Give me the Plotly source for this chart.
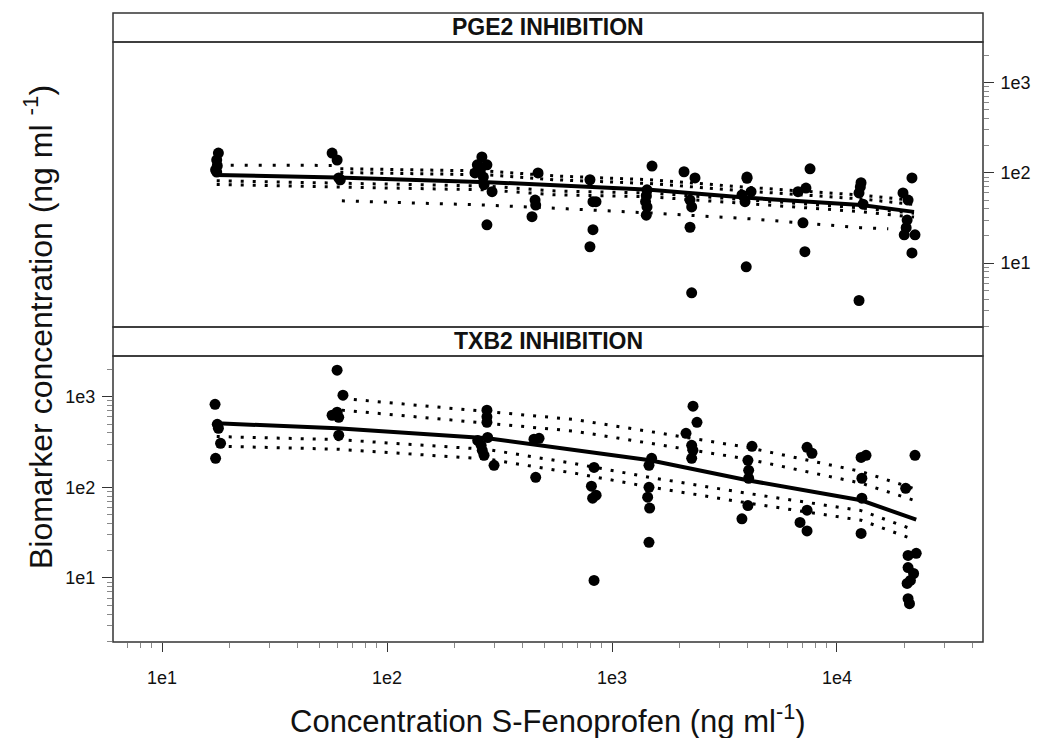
import plotly.graph_objects as go

# ---------------- PGE2 observations ----------------
pge2_conc = [17.8, 17.5, 17.6, 17.3, 17.5,
             57, 60, 61, 62,
             264, 252, 278, 260, 246, 268, 270, 293, 278,
             469, 455, 458, 441,
             798, 823, 849, 823, 798,
             1506, 1431, 1420, 1410, 1431, 1420,
             2090, 2338, 2222, 2260, 2222, 2260,
             3981, 3981, 4150, 3781, 3900, 3950,
             7590, 7280, 6710, 7060, 7200,
             12790, 12700, 12530, 13060, 12530,
             21540, 19650, 20700, 20500, 20300, 19900, 22220, 21540]
pge2_value = [166, 139, 120, 108, 102,
              166, 139, 88, 84,
              150, 123, 123, 108, 100, 90, 74, 62, 26.6,
              100, 50, 44, 32.7,
              84, 48, 48, 23.5, 15.2,
              119, 65, 56, 48, 42, 34,
              103, 88, 50, 42, 25, 4.7,
              90, 87, 62, 57, 48, 9.1,
              111, 68, 62, 28, 13.4,
              78, 70, 60, 45, 3.86,
              88, 60, 50, 30, 24.7, 20.6, 20.6, 13]

# ---------------- TXB2 observations ----------------
txb2_conc = [17.2, 17.6, 17.8, 18.2, 17.3,
             60, 63.7, 57, 60, 61, 61,
             278, 278, 278, 253, 262, 265, 270, 299, 280,
             474, 450, 458,
             832, 810, 850, 820, 832,
             1500, 1460, 1460, 1440, 1470, 1460,
             2291, 2386, 2133, 2260, 2290, 2260,
             4190, 4019, 4050, 4050, 4019, 3780,
             7360, 7740, 7360, 6850, 7360,
             13460, 12800, 12900, 12900, 12800,
             22220, 20200, 20700, 22500, 20700, 21900, 21200, 20500, 20700, 21000]
txb2_value = [826, 497, 449, 306, 209,
              1963, 1040, 625, 675, 593, 376,
              710, 600, 522, 330, 291, 256, 226, 175, 355,
              348, 340, 129,
              166, 103, 82, 76, 9.4,
              209, 175, 100, 78, 59, 24.7,
              786, 522, 395, 291, 256, 209,
              284, 199, 154, 126, 63, 45,
              277, 238, 56, 41, 33,
              226, 214, 126, 76, 31,
              226, 97.5, 17.7, 18.7, 13, 11.2, 9.4, 8.7, 5.9, 5.2]

# ---------------- PGE2 model lines ----------------
pge2_med_x = [17.5, 60, 280, 1475, 4000, 12800, 22000]
pge2_med_y = [95, 89, 79, 65, 53, 44, 37]
pge2_up_x = [17.5, 58, 62, 280, 560, 1475, 4000, 12800, 22000]
pge2_up_y = [122, 121, 106, 100, 88, 80, 66, 54, 47]
pge2_lo_x = [17.5, 60, 280, 560, 1475, 4000, 12800, 22000]
pge2_lo_y = [78, 74, 68, 60, 57, 48, 39, 34]
pge2_low_x = [63, 278, 631, 1475, 4110, 12700, 16900]
pge2_low_y = [49, 44, 40, 36, 31, 24.7, 24]

# ---------------- TXB2 model lines ----------------
txb2_med_x = [17.5, 60, 280, 1475, 4000, 12800, 22500]
txb2_med_y = [509, 449, 348, 199, 120, 72, 44]
txb2_up_x = [63, 280, 680, 1475, 4000, 12800, 22500]
txb2_up_y = [826, 593, 484, 356, 238, 129, 82]
txb2_lo_x = [17.5, 60, 280, 680, 1475, 4000, 12800, 22000]
txb2_lo_y = [322, 298, 232, 162, 114, 76, 49, 30]

x_ticks = [10, 100, 1000, 10000]
x_ticktext = ["1e1", "1e2", "1e3", "1e4"]
y_ticks = [10, 100, 1000]
y_ticktext = ["1e1", "1e2", "1e3"]

FONT = "Liberation Sans, Arial, sans-serif"
INK = "black"
FRAME = "#333333"

fig = go.Figure()


def band(xs, ys, factor, xa, ya, dash):
    for f in (factor, 1.0 / factor):
        fig.add_trace(go.Scatter(
            x=xs, y=[v * f for v in ys], mode="lines", xaxis=xa, yaxis=ya,
            line=dict(color=INK, width=3, dash=dash), hoverinfo="skip", showlegend=False))


def single(xs, ys, xa, ya, dash, width=3):
    fig.add_trace(go.Scatter(
        x=xs, y=ys, mode="lines", xaxis=xa, yaxis=ya,
        line=dict(color=INK, width=width, dash=dash), hoverinfo="skip", showlegend=False))


# top panel (PGE2)
single(pge2_up_x[:2], pge2_up_y[:2], "x2", "y2", "3px,11px")
band(pge2_up_x[2:], pge2_up_y[2:], 1.05, "x2", "y2", "3px,7px")
band(pge2_lo_x, pge2_lo_y, 1.05, "x2", "y2", "3px,9px")
single(pge2_low_x, pge2_low_y, "x2", "y2", "3px,11px")
fig.add_trace(go.Scatter(x=pge2_conc, y=pge2_value, mode="markers", xaxis="x2", yaxis="y2",
                         marker=dict(color=INK, size=11), showlegend=False))
single(pge2_med_x, pge2_med_y, "x2", "y2", "solid", width=4)

# bottom panel (TXB2)
band(txb2_up_x, txb2_up_y, 1.16, "x", "y", "3px,9px")
band(txb2_lo_x, txb2_lo_y, 1.13, "x", "y", "3px,9px")
fig.add_trace(go.Scatter(x=txb2_conc, y=txb2_value, mode="markers", xaxis="x", yaxis="y",
                         marker=dict(color=INK, size=11), showlegend=False))
single(txb2_med_x, txb2_med_y, "x", "y", "solid", width=4)

D_BOT = [0, 0.4547]
D_S2 = [0.4547, 0.5008]
D_TOP = [0.5008, 0.9539]
D_S1 = [0.9539, 1.0]

minor_x = [m * 10 ** e for e in range(0, 5) for m in range(2, 10)]
minor_y = [m * 10 ** e for e in range(0, 4) for m in range(2, 10)]

common_y = dict(type="log", range=[0.293, 3.45], tickmode="array", tickvals=y_ticks,
                ticktext=y_ticktext, ticks="outside", ticklen=10, tickcolor=FRAME, tickwidth=1,
                showgrid=False, zeroline=False, showline=False, automargin=False,
                ticklabelstandoff=3,
                tickfont=dict(family=FONT, size=18, color="#111"),
                minor=dict(tickvals=minor_y, ticks="outside", ticklen=5, tickcolor="#888",
                           tickwidth=1, showgrid=False))

# the page body adds an 8px offset, margins compensate for it
fig.update_layout(
    width=1046, height=738,
    margin=dict(l=105, r=71, t=5, b=104, autoexpand=False),
    paper_bgcolor="white", plot_bgcolor="white",
    showlegend=False,
    xaxis=dict(type="log", range=[0.782, 4.649], domain=[0, 1], anchor="y",
               tickmode="array", tickvals=x_ticks, ticktext=x_ticktext,
               ticks="outside", ticklen=9, tickcolor=FRAME, tickwidth=1,
               showgrid=False, zeroline=False, showline=False, ticklabelstandoff=10,
               automargin=False,
               tickfont=dict(family=FONT, size=18, color="#111"),
               minor=dict(tickvals=minor_x, ticks="outside", ticklen=5, tickcolor="#888",
                          tickwidth=1, showgrid=False)),
    xaxis2=dict(type="log", range=[0.782, 4.649], domain=[0, 1], anchor="y2", matches="x",
                showticklabels=False, ticks="", showgrid=False, zeroline=False, showline=False,
                automargin=False),
    yaxis=dict(domain=D_BOT, anchor="x", side="left", **common_y),
    yaxis2=dict(domain=D_TOP, anchor="x2", side="right", **common_y),
)

shapes = []
for d in (D_BOT, D_S2, D_TOP, D_S1):
    shapes.append(dict(type="rect", xref="paper", yref="paper", x0=0, x1=1, y0=d[0], y1=d[1],
                       line=dict(color=FRAME, width=1.5), fillcolor="rgba(0,0,0,0)", layer="above"))
fig.update_layout(shapes=shapes)

for txt, d in (("PGE2 INHIBITION", D_S1), ("TXB2 INHIBITION", D_S2)):
    fig.add_annotation(text="<b>" + txt + "</b>", xref="paper", yref="paper", x=0.5,
                       y=(d[0] + d[1]) / 2, showarrow=False, xanchor="center", yanchor="middle",
                       font=dict(family=FONT, size=23, color="#111"))

# axis titles
fig.add_annotation(text="Concentration S-Fenoprofen (ng ml<sup>-1</sup>)", xref="paper", yref="paper",
                   x=0.5, y=-0.122, showarrow=False, xanchor="center", yanchor="middle",
                   font=dict(family=FONT, size=31, color="#111"))
fig.add_annotation(text="Biomarker concentration (ng ml <sup>-1</sup>)", xref="paper", yref="paper",
                   x=-0.086, y=0.501, showarrow=False, xanchor="center", yanchor="middle",
                   textangle=-90, font=dict(family=FONT, size=32, color="#111"))

fig.write_html("out.html")
